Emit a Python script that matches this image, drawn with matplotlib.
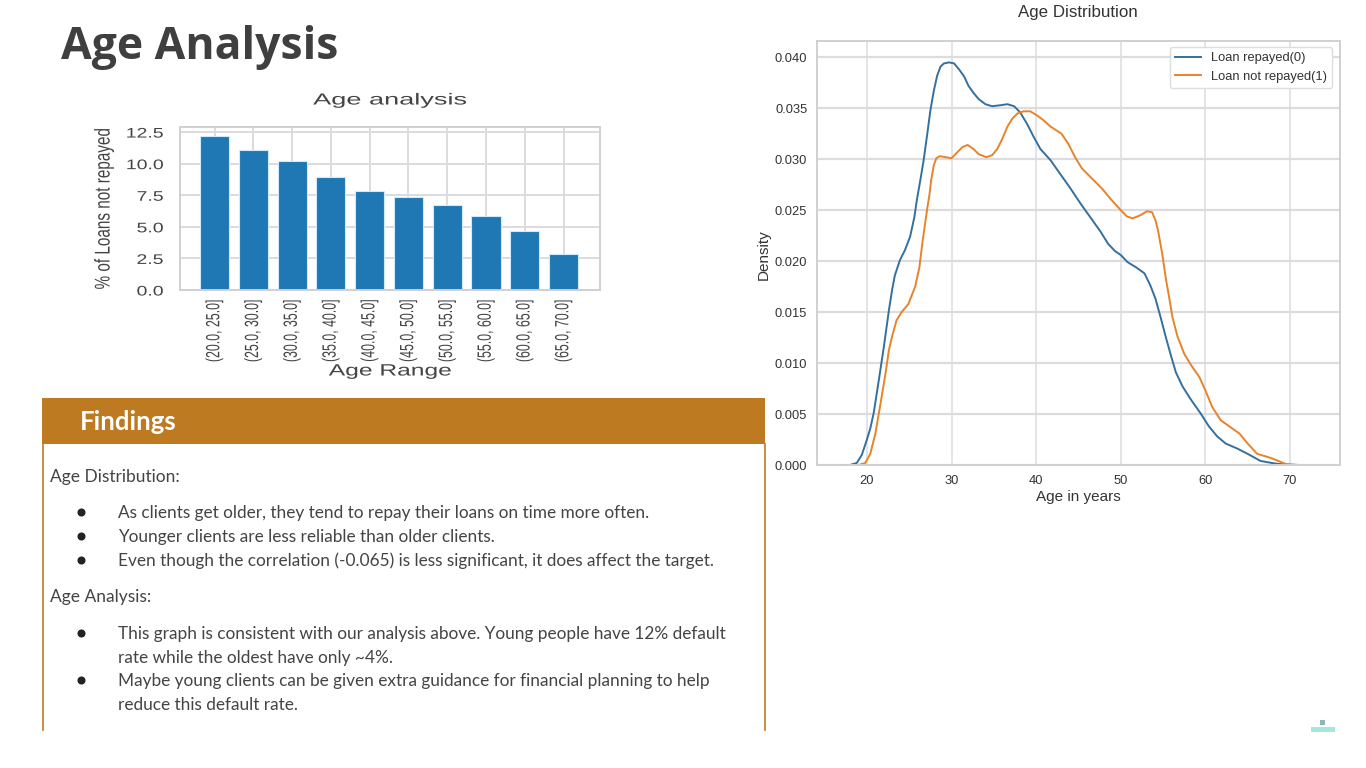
import matplotlib

matplotlib.use("Agg")
import matplotlib.pyplot as plt
from matplotlib.patches import Rectangle
from matplotlib.patheffects import AbstractPathEffect
from matplotlib.transforms import Affine2D

W, H = 1366, 768

# bar chart values
age_ranges = ["(20.0, 25.0]", "(25.0, 30.0]", "(30.0, 35.0]", "(35.0, 40.0]", "(40.0, 45.0]",
              "(45.0, 50.0]", "(50.0, 55.0]", "(55.0, 60.0]", "(60.0, 65.0]", "(65.0, 70.0]"]
pct_not_repaid = [12.2, 11.1, 10.2, 8.93, 7.8, 7.37, 6.71, 5.84, 4.65, 2.88]

# density curves
repaid_age = [17.0, 18.0, 18.8, 19.4, 20.0, 20.4, 20.8, 21.4, 22.0, 22.6, 23.0, 23.3, 23.9, 24.5, 25.1, 25.6,
              25.9, 26.3, 26.7, 27.1, 27.5, 27.9, 28.3, 28.7, 29.1, 29.7, 30.3, 30.9, 31.5, 32.0, 32.6, 33.2,
              34.0, 34.8, 35.8, 36.6, 37.4, 38.1, 38.9, 39.7, 40.5, 41.7, 42.8, 44.0, 45.2, 46.4, 47.6, 48.5,
              49.3, 50.0, 50.8, 51.8, 52.8, 53.5, 54.1, 54.7, 55.3, 55.9, 56.5, 57.3, 58.3, 59.4, 60.4, 61.4,
              62.4, 63.8, 65.2, 66.5, 68.1, 69.5, 71.0]
repaid_density = [0.0, 0.0, 0.0002, 0.001, 0.0025, 0.0036, 0.0051, 0.0083, 0.0116, 0.0152, 0.0173, 0.0186,
                  0.0201, 0.0211, 0.0224, 0.0243, 0.026, 0.0279, 0.0299, 0.0323, 0.0348, 0.0367, 0.0382, 0.0391,
                  0.0394, 0.0395, 0.0394, 0.0388, 0.0381, 0.0372, 0.0365, 0.0359, 0.0354, 0.0352, 0.0353, 0.0354,
                  0.0352, 0.0346, 0.0335, 0.0322, 0.031, 0.0299, 0.0286, 0.0272, 0.0257, 0.0243, 0.0229, 0.0217,
                  0.021, 0.0206, 0.0199, 0.0194, 0.0188, 0.0176, 0.0163, 0.0145, 0.0126, 0.0108, 0.0091, 0.0077,
                  0.0064, 0.0051, 0.0038, 0.0028, 0.0021, 0.0016, 0.001, 0.0004, 0.00016, 0.00003, 0.0]
not_repaid_age = [18.0, 19.0, 19.8, 20.4, 21.0, 21.6, 22.2, 22.6, 23.0, 23.5, 24.1, 24.9, 25.7, 26.2, 26.6, 27.1,
                  27.4, 27.6, 27.9, 28.2, 28.6, 29.3, 30.0, 30.7, 31.3, 31.9, 32.6, 33.2, 34.1, 34.8, 35.4, 36.0,
                  36.6, 37.2, 37.8, 38.5, 39.3, 40.1, 40.9, 41.7, 43.0, 43.8, 44.6, 45.4, 46.6, 47.8, 48.9, 50.0,
                  50.7, 51.4, 52.3, 53.1, 53.7, 54.1, 54.4, 54.9, 55.3, 55.7, 56.1, 56.7, 57.5, 58.3, 59.3, 60.0,
                  60.8, 61.8, 62.8, 64.0, 65.0, 66.1, 67.7, 69.5, 71.0]
not_repaid_density = [0.0, 0.0, 0.0002, 0.0011, 0.0031, 0.006, 0.009, 0.0113, 0.0127, 0.0142, 0.015, 0.0158, 0.0175,
                      0.0194, 0.0221, 0.025, 0.0266, 0.028, 0.0294, 0.0301, 0.0303, 0.0302, 0.0301, 0.0307, 0.0312,
                      0.0314, 0.031, 0.0305, 0.0302, 0.0304, 0.031, 0.032, 0.0332, 0.034, 0.0345, 0.0347, 0.0347,
                      0.0343, 0.0338, 0.0332, 0.0325, 0.0315, 0.0302, 0.0291, 0.0281, 0.0271, 0.026, 0.025, 0.0244,
                      0.0242, 0.0245, 0.0249, 0.0248, 0.024, 0.023, 0.0207, 0.0184, 0.0165, 0.0145, 0.0126, 0.0109,
                      0.0098, 0.0086, 0.0073, 0.0057, 0.0044, 0.0038, 0.0031, 0.0021, 0.0011, 0.0007, 0.0001, 0.0]
density_xticks = [20, 30, 40, 50, 60, 70]
density_yticks = [0.0, 0.005, 0.01, 0.015, 0.02, 0.025, 0.03, 0.035, 0.04]

# slide text: (y pixel, text)
intro_lines = [(477, "Age Distribution:"), (597, "Age Analysis:")]
bullet_marks = [512, 536, 560, 633, 680]
body_lines = [
    (513, "As clients get older, they tend to repay their loans on time more often."),
    (537, "Younger clients are less reliable than older clients."),
    (561, "Even though the correlation (-0.065) is less significant, it does affect the target."),
    (634, "This graph is consistent with our analysis above. Young people have 12% default"),
    (658, "rate while the oldest have only ~4%."),
    (681, "Maybe young clients can be given extra guidance for financial planning to help"),
    (705, "reduce this default rate."),
]

DARK = "#444444"
ORANGE = "#be7a20"
GRID = "#dcdce0"
SPINE = "#d0d0d4"


class StretchX(AbstractPathEffect):
    # the bar chart is a screenshot pasted wider than it was drawn
    def __init__(self, sx, anchor=0.5):
        super().__init__()
        self.sx = sx
        self.anchor = anchor

    def draw_path(self, renderer, gc, tpath, affine, rgbFace=None):
        box = tpath.get_extents(affine)
        cx = box.x0 + self.anchor * box.width
        stretched = affine + Affine2D().translate(-cx, 0).scale(self.sx, 1).translate(cx, 0)
        renderer.draw_path(gc, tpath, stretched, rgbFace)


def axes_px(fig, left, top, right, bottom):
    return fig.add_axes([left / W, 1 - bottom / H, (right - left) / W, (bottom - top) / H])


plt.rcParams["font.family"] = ["Liberation Sans", "DejaVu Sans"]
fig = plt.figure(figsize=(W / 100, H / 100), dpi=100, facecolor="white")

# page layer in pixel coordinates
page = fig.add_axes([0, 0, 1, 1], zorder=0)
page.set_xlim(0, W)
page.set_ylim(H, 0)
page.axis("off")
page.text(61, 48, "Age Analysis", fontsize=32, weight="bold", family="Open Sans", color="#3f3f3f", va="center")
page.add_patch(Rectangle((42, 398), 723, 46, color=ORANGE, lw=0))
page.text(80, 422, "Findings", fontsize=18.5, weight="bold", family="Lato", color="white", va="center")
page.plot([43, 43], [444, 730], color=ORANGE, lw=1.2)
page.plot([765, 765], [444, 730], color=ORANGE, lw=1.2)
for y, line in intro_lines:
    page.text(50, y, line, fontsize=12.5, family="Lato", color=DARK, va="center")
for y, line in body_lines:
    page.text(118, y, line, fontsize=12.4, family="Lato", color=DARK, va="center")
for y in bullet_marks:
    page.plot(81, y, "o", color="#222222", ms=4.8)
# small logo bottom right
page.add_patch(Rectangle((1311, 727), 24, 5, color="#a5e6dd", lw=0))
page.add_patch(Rectangle((1320, 720), 5, 5, color="#8fb4bb", lw=0))

# bar chart
ax = axes_px(fig, 180, 127, 600, 290)
ax.set_axisbelow(True)
ax.bar(range(len(age_ranges)), pct_not_repaid, width=0.75, color="#1f77b4", edgecolor="#cfeaff", linewidth=0.8)
ax.set_xlim(-0.89, 9.94)
ax.set_ylim(0, 12.9)
ax.set_xticks(range(len(age_ranges)))
ax.set_xticklabels(age_ranges, rotation=90, fontsize=8.9, color=DARK)
ax.set_yticks([0, 2.5, 5, 7.5, 10, 12.5])
ax.set_yticklabels(["0.0", "2.5", "5.0", "7.5", "10.0", "12.5"], fontsize=10, color=DARK)
ax.grid(True, color=GRID, linewidth=1.4)
ax.tick_params(axis="x", length=0, pad=7)
ax.tick_params(axis="y", length=0, pad=12)
for label in ax.get_xticklabels():
    label.set_path_effects([StretchX(1.55)])
for label in ax.get_yticklabels():
    label.set_path_effects([StretchX(1.4, anchor=1.0)])
for spine in ax.spines.values():
    spine.set_color(SPINE)
    spine.set_linewidth(1.4)
page.text(390, 100, "Age analysis", fontsize=11.5, color=DARK, ha="center", va="center",
          path_effects=[StretchX(1.7)])
page.text(390, 371, "Age Range", fontsize=11.8, color=DARK, ha="center", va="center",
          path_effects=[StretchX(1.5)])
page.text(104, 209, "% of Loans not repayed", fontsize=11, rotation=90, color=DARK, ha="center", va="center",
          path_effects=[StretchX(1.4)])

# density chart
ax2 = axes_px(fig, 817, 41, 1340, 465)
ax2.plot(repaid_age, repaid_density, color="#34709f", lw=1.4, label="Loan repayed(0)", solid_joinstyle="round")
ax2.plot(not_repaid_age, not_repaid_density, color="#e8832a", lw=1.4, label="Loan not repayed(1)",
         solid_joinstyle="round")
ax2.set_xlim(14.1, 75.9)
ax2.set_ylim(0, 0.0416)
ax2.set_xticks(density_xticks)
ax2.set_yticks(density_yticks)
ax2.set_yticklabels([f"{v:.3f}" for v in density_yticks])
ax2.tick_params(length=0, labelsize=9.3, labelcolor="#333333", pad=7)
ax2.grid(True, axis="y", color=GRID, linewidth=1.6)
ax2.grid(True, axis="x", color=GRID, linewidth=1.1)
ax2.set_axisbelow(True)
for spine in ax2.spines.values():
    spine.set_color(SPINE)
    spine.set_linewidth(1.4)
ax2.legend(loc="upper right", bbox_to_anchor=(0.985, 0.986), borderaxespad=0, fontsize=9.3, labelcolor="#333333",
           frameon=True, edgecolor="#dddddd", framealpha=1, fancybox=True)
page.text(1078, 13, "Age Distribution", fontsize=12.2, color="#333333", ha="center", va="center")
page.text(1078, 497, "Age in years", fontsize=11, color="#333333", ha="center", va="center")
page.text(764, 255, "Density", fontsize=11, rotation=90, color="#333333", ha="center", va="center")

fig.savefig("out.png", dpi=100)
plt.close(fig)
